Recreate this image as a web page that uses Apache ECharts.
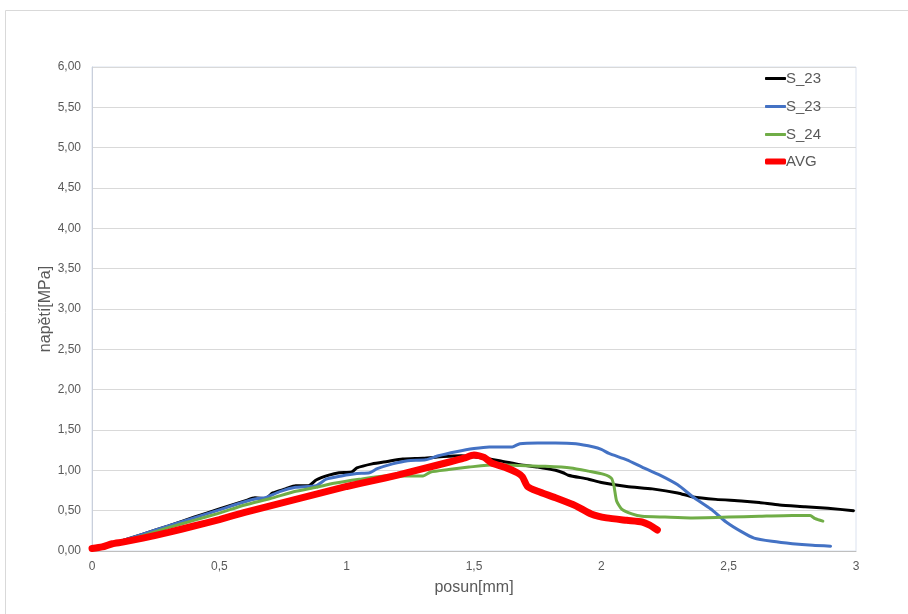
<!DOCTYPE html>
<html>
<head>
<meta charset="utf-8">
<script src="https://cdn.jsdelivr.net/npm/echarts@6/dist/echarts.min.js"></script>
<style>
  html, body { margin: 0; padding: 0; background: #fff; }
  #chart { width: 908px; height: 614px; }
</style>
</head>
<body>
<div id="chart"></div>
<script>
// Stress vs displacement for the individual specimens and their average
const seriesNames = ['S_23', 'S_23 ', 'S_24', 'AVG'];
const legendLabels = ['S_23', 'S_23', 'S_24', 'AVG'];

const s23a = [
  [0, 0.02], [0.1, 0.11], [0.2, 0.21], [0.3, 0.31], [0.4, 0.42], [0.5, 0.52],
  [0.6, 0.62], [0.64, 0.66], [0.68, 0.65], [0.71, 0.72], [0.76, 0.77], [0.8, 0.81],
  [0.85, 0.81], [0.88, 0.88], [0.93, 0.94], [0.97, 0.97], [1.02, 0.98], [1.04, 1.03],
  [1.1, 1.08], [1.16, 1.11], [1.22, 1.14], [1.3, 1.15], [1.38, 1.17], [1.45, 1.18],
  [1.52, 1.16], [1.6, 1.12], [1.68, 1.07], [1.75, 1.04], [1.82, 1.0], [1.85, 0.97],
  [1.87, 0.94], [1.95, 0.89], [2.0, 0.85], [2.1, 0.8], [2.2, 0.77], [2.3, 0.72],
  [2.36, 0.67], [2.45, 0.64], [2.55, 0.62], [2.62, 0.6], [2.7, 0.57], [2.8, 0.55],
  [2.89, 0.53], [2.99, 0.5]
];

const s23b = [
  [0, 0.02], [0.1, 0.11], [0.2, 0.21], [0.3, 0.31], [0.4, 0.41], [0.5, 0.51],
  [0.6, 0.61], [0.65, 0.65], [0.68, 0.66], [0.74, 0.74], [0.8, 0.79], [0.88, 0.81],
  [0.92, 0.89], [0.98, 0.93], [1.04, 0.96], [1.09, 0.97], [1.12, 1.02], [1.18, 1.08],
  [1.24, 1.12], [1.31, 1.13], [1.36, 1.18], [1.43, 1.23], [1.5, 1.27], [1.56, 1.29],
  [1.65, 1.29], [1.68, 1.33], [1.75, 1.34], [1.82, 1.34], [1.9, 1.33], [1.97, 1.29],
  [2.0, 1.26], [2.03, 1.21], [2.1, 1.13], [2.16, 1.04], [2.23, 0.94], [2.3, 0.82],
  [2.36, 0.67], [2.43, 0.52], [2.49, 0.36], [2.55, 0.24], [2.6, 0.16], [2.67, 0.12],
  [2.75, 0.09], [2.83, 0.07], [2.9, 0.06]
];

const s24 = [
  [0, 0.02], [0.1, 0.1], [0.2, 0.19], [0.3, 0.29], [0.4, 0.38], [0.5, 0.47],
  [0.6, 0.57], [0.7, 0.65], [0.8, 0.74], [0.88, 0.79], [0.95, 0.84], [1.05, 0.89],
  [1.15, 0.93], [1.22, 0.93], [1.3, 0.93], [1.33, 0.98], [1.4, 1.01], [1.48, 1.04],
  [1.58, 1.07], [1.68, 1.06], [1.78, 1.05], [1.88, 1.03], [1.95, 0.99], [2.01, 0.95],
  [2.04, 0.9], [2.05, 0.8], [2.06, 0.62], [2.08, 0.52], [2.12, 0.46], [2.16, 0.43],
  [2.25, 0.42], [2.35, 0.41], [2.5, 0.42], [2.62, 0.43], [2.75, 0.44], [2.82, 0.44],
  [2.84, 0.4], [2.87, 0.37]
];

const avg = [
  [0, 0.03], [0.04, 0.05], [0.08, 0.09], [0.12, 0.11], [0.2, 0.16], [0.3, 0.23],
  [0.4, 0.31], [0.5, 0.39], [0.6, 0.48], [0.7, 0.56], [0.8, 0.64], [0.9, 0.72],
  [1.0, 0.8], [1.1, 0.87], [1.2, 0.94], [1.3, 1.02], [1.4, 1.1], [1.46, 1.15],
  [1.5, 1.19], [1.54, 1.16], [1.57, 1.09], [1.62, 1.04], [1.67, 0.97], [1.69, 0.92],
  [1.71, 0.8], [1.75, 0.74], [1.82, 0.66], [1.9, 0.56], [1.96, 0.46], [2.02, 0.41],
  [2.1, 0.38], [2.16, 0.36], [2.19, 0.32], [2.22, 0.26]
];

const xTicks = { min: 0, max: 3, interval: 0.5 };
const yTicks = { min: 0, max: 6, interval: 0.5 };

const colors = ['#000000', '#4472C4', '#70AD47', '#FF0000'];
const widths = [3, 3, 3, 7];
const dataSets = [s23a, s23b, s24, avg];

const font = 'Liberation Sans, Arial, sans-serif';
const textGray = '#595959';

function legendBlock(names, top, height, gap) {
  return {
    orient: 'vertical',
    left: 765, top: top,
    padding: 0,
    icon: 'roundRect',
    itemWidth: 21, itemHeight: height, itemGap: gap,
    textStyle: { color: textGray, fontSize: 15, fontFamily: font, padding: [0, 0, 0, -5] },
    formatter: function (name) { return legendLabels[seriesNames.indexOf(name)]; },
    data: names
  };
}

const chart = echarts.init(document.getElementById('chart'), null, { renderer: 'canvas' });

chart.setOption({
  animation: false,
  backgroundColor: '#ffffff',
  graphic: [{
    type: 'rect',
    shape: { x: 5.5, y: 10.5, width: 920, height: 620 },
    style: { fill: 'none', stroke: '#d9d9d9', lineWidth: 1 },
    silent: true,
    z: -1
  }],
  grid: {
    left: 92, right: 52, top: 67, bottom: 63,
    show: true, borderColor: '#dbe2ef', borderWidth: 1
  },
  legend: [
    legendBlock(seriesNames.slice(0, 3), 71, 3, 13),
    legendBlock(seriesNames.slice(3), 154, 6, 10)
  ],
  xAxis: {
    type: 'value',
    min: xTicks.min, max: xTicks.max, interval: xTicks.interval,
    name: 'posun[mm]', nameLocation: 'middle', nameGap: 29,
    nameMoveOverlap: false,
    nameTextStyle: { color: textGray, fontSize: 16, fontFamily: font },
    axisLine: { show: true, lineStyle: { color: '#bfbfbf' } },
    axisTick: { show: false },
    splitLine: { show: false },
    axisLabel: {
      color: textGray, fontSize: 12, fontFamily: font, margin: 10,
      formatter: function (v) { return String(v).replace('.', ','); }
    }
  },
  yAxis: {
    type: 'value',
    min: yTicks.min, max: yTicks.max, interval: yTicks.interval,
    name: 'napětí[MPa]', nameLocation: 'middle', nameGap: 38,
    nameMoveOverlap: false,
    nameTextStyle: { color: textGray, fontSize: 16, fontFamily: font },
    axisLine: { show: true, lineStyle: { color: '#c9cfdb' } },
    axisTick: { show: false },
    splitLine: { show: true, lineStyle: { color: '#d9d9d9', width: 1 } },
    axisLabel: {
      color: textGray, fontSize: 12, fontFamily: font, margin: 11,
      formatter: function (v) { return v.toFixed(2).replace('.', ','); }
    }
  },
  series: dataSets.map(function (d, i) {
    return {
      name: seriesNames[i],
      type: 'line',
      data: d,
      showSymbol: false,
      symbol: 'none',
      smooth: 0.2,
      z: 2 + i,
      lineStyle: { color: colors[i], width: widths[i], cap: 'round', join: 'round' },
      itemStyle: { color: colors[i] }
    };
  })
});
</script>
</body>
</html>
